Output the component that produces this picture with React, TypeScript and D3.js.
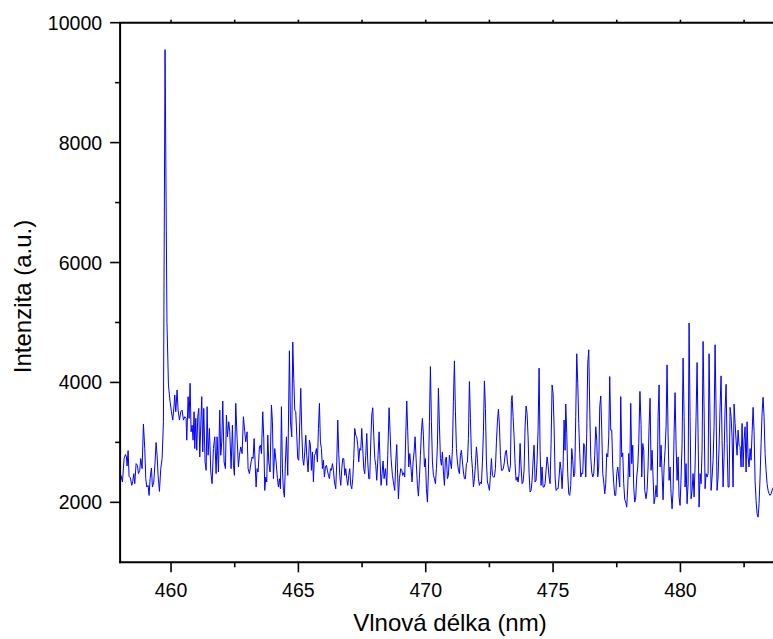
import React from "react";
import * as d3 from "d3";

const wlA = [
  458.000, 458.039, 458.092, 458.157, 458.209, 458.249, 458.275, 458.314, 458.353, 458.406,
  458.458, 458.497, 458.537, 458.576, 458.628, 458.681, 458.720, 458.772, 458.811, 458.864,
  458.916, 458.968, 459.008, 459.047, 459.099, 459.139, 459.178, 459.230, 459.269, 459.322,
  459.374, 459.413, 459.453, 459.492, 459.544, 459.597, 459.649, 459.701, 459.765, 459.840,
  459.898, 459.963, 460.015, 460.068, 460.120, 460.146, 460.186, 460.238, 460.277, 460.330,
  460.382, 460.434, 460.487, 460.539, 460.591, 460.617, 460.670, 460.709, 460.748, 460.788,
  460.827, 460.866, 460.905, 460.932, 460.971, 461.010, 461.049, 461.089, 461.128, 461.167,
  461.206, 461.246, 461.285, 461.337, 461.377, 461.416, 461.455, 461.507, 461.560, 461.612,
  461.664, 461.717, 461.769, 461.808, 461.861, 461.913, 461.952, 461.992, 462.031, 462.083,
  462.136, 462.175, 462.214, 462.266, 462.306, 462.358, 462.410, 462.450, 462.489, 462.541,
  462.594, 462.646, 462.685, 462.738, 462.790, 462.842, 462.895, 462.934, 462.986, 463.026,
  463.078,
];
const inA = [
  2478, 2439, 2339, 2730, 2797, 2757, 2607, 2864, 2434, 2406,
  2283, 2350, 2478, 2311, 2646, 2618, 2478, 2534, 2730, 2562,
  3305, 2897, 2395, 2255, 2283, 2115, 2395, 2573, 2255, 2339,
  2674, 2998, 2785, 2450, 2182, 2562, 2730, 3344, 9550, 5000,
  3958, 3679, 3511, 3372, 3623, 3790, 3511, 3874, 3539, 3372,
  3511, 3539, 3372, 3428, 3400, 3037, 3763, 3400, 3986, 3176,
  3288, 3037, 3511, 2897, 3400, 2869, 3428, 3567, 2757, 3288,
  3763, 2841, 3567, 2674, 2534, 3595, 2785, 3232, 2506, 2311,
  2897, 3093, 2478, 3093, 2506, 3539, 2785, 3009, 3690, 2674,
  2562, 3456, 3093, 3344, 3176, 2562, 3288, 2618, 2450, 3651,
  3065, 2590, 2785, 2925, 2813, 3428, 3176, 3009, 3176, 2562,
  2478,
];

const wlB = [
  463.143, 463.183, 463.222, 463.261, 463.300, 463.340, 463.379, 463.418, 463.470, 463.510,
  463.549, 463.601, 463.641, 463.680, 463.719, 463.758, 463.798, 463.837, 463.889, 463.942,
  463.981, 464.020, 464.072, 464.125, 464.177, 464.216, 464.256, 464.295, 464.334, 464.373,
  464.413, 464.452, 464.491, 464.531, 464.583, 464.648, 464.688, 464.740, 464.779, 464.818,
  464.858, 464.897, 464.936, 464.975, 465.015, 465.054, 465.093, 465.133, 465.172, 465.211,
  465.250, 465.290, 465.329, 465.381, 465.434, 465.473, 465.512, 465.551, 465.591, 465.630,
  465.669, 465.708, 465.748, 465.787, 465.826, 465.865, 465.905, 465.944, 465.983, 466.022,
  466.062, 466.101, 466.140, 466.180, 466.219, 466.258, 466.297, 466.337, 466.376, 466.415,
  466.467, 466.507, 466.546, 466.585, 466.624, 466.664, 466.703, 466.742, 466.782, 466.821,
  466.860, 466.899, 466.939, 466.978, 467.017, 467.056, 467.096, 467.135, 467.174, 467.213,
  467.253, 467.292, 467.331, 467.370, 467.410, 467.449, 467.488, 467.527, 467.567, 467.606,
  467.645, 467.685, 467.724, 467.763, 467.802, 467.842, 467.881, 467.920, 467.959, 467.999,
  468.038, 468.077, 468.129, 468.169, 468.208, 468.247, 468.286, 468.325, 468.365,
];
const inB = [
  2674, 2757, 2730, 3065, 2674, 2255, 2562, 2506, 2925, 2953,
  2813, 3511, 3065, 2199, 2422, 2339, 3120, 2674, 2506, 3623,
  3344, 2395, 2897, 2674, 2395, 2255, 2395, 2227, 3595, 2562,
  2199, 2087, 2674, 3093, 2450, 4528, 3344, 3093, 4673, 4070,
  3539, 3511, 3120, 2730, 2702, 3344, 3902, 3176, 2730, 2618,
  2841, 3120, 2785, 2506, 3037, 2953, 2534, 2841, 2339, 2785,
  2813, 2897, 2674, 3232, 3651, 3009, 2897, 2562, 2702, 2422,
  2590, 2618, 2534, 2450, 2395, 2562, 2534, 2646, 2534, 2339,
  2227, 2674, 3372, 2813, 2450, 2283, 2562, 2730, 2730, 2450,
  2562, 2395, 2283, 2450, 2562, 2283, 2227, 2395, 2730, 3232,
  3120, 3093, 2953, 2674, 2897, 2869, 3232, 2897, 2562, 2478,
  2785, 3148, 2674, 2395, 2395, 3009, 3456, 3578, 3120, 2730,
  2618, 2367, 2785, 3176, 2674, 2283, 2478, 2690, 2395,
];

const wlC = [
  468.417, 468.470, 468.509, 468.561, 468.601, 468.640, 468.692, 468.731, 468.784, 468.823,
  468.862, 468.889, 468.928, 468.967, 469.019, 469.059, 469.098, 469.137, 469.176, 469.216,
  469.255, 469.294, 469.334, 469.373, 469.412, 469.464, 469.504, 469.543, 469.582, 469.621,
  469.674, 469.713, 469.752, 469.792, 469.831, 469.870, 469.909, 469.949, 469.988, 470.027,
  470.066, 470.106, 470.145, 470.184, 470.224, 470.263, 470.302, 470.341, 470.381, 470.420,
  470.459, 470.498, 470.538, 470.577, 470.616, 470.655, 470.695, 470.734, 470.773, 470.812,
  470.852, 470.891, 470.930, 470.970, 471.009, 471.048, 471.087, 471.127, 471.166, 471.205,
  471.244, 471.284, 471.323, 471.362, 471.401, 471.441, 471.480, 471.519, 471.558, 471.598,
  471.637, 471.676, 471.715, 471.755, 471.794, 471.833, 471.873, 471.912, 471.951, 471.990,
  472.030, 472.069, 472.108, 472.147, 472.187, 472.226, 472.265, 472.304, 472.344, 472.383,
  472.422, 472.461, 472.501, 472.540, 472.579, 472.618, 472.658, 472.697, 472.736, 472.776,
  472.815, 472.854, 472.893, 472.933, 472.972, 473.011, 473.050, 473.090, 473.129, 473.168,
  473.207, 473.247, 473.286, 473.325, 473.364, 473.390,
];
const inC = [
  2562, 2283, 2785, 3578, 3176, 2730, 2450, 2339, 2199, 2674,
  2964, 2562, 2059, 2395, 2562, 2534, 2450, 2495, 2422, 3120,
  3690, 3176, 2590, 2813, 2618, 2339, 2674, 2841, 3093, 2730,
  2283, 2104, 2395, 2785, 3176, 3400, 3120, 2590, 2730, 2227,
  2004, 2506, 3344, 4265, 3344, 2674, 2450, 2395, 2311, 2562,
  2953, 3902, 3288, 2730, 2618, 2841, 2506, 2283, 2730, 2757,
  2395, 2450, 2785, 2674, 2562, 2897, 3679, 4360, 3511, 2897,
  2674, 2534, 2478, 2785, 2869, 2674, 2506, 2395, 2395, 2646,
  2674, 3065, 4014, 3400, 2785, 2562, 2255, 2395, 2618, 2925,
  2730, 2395, 2283, 2339, 2311, 2674, 3176, 4025, 3567, 2674,
  2339, 2283, 2199, 2450, 2730, 2450, 2422, 2422, 2562, 3009,
  3344, 3556, 3288, 2785, 2534, 2534, 2573, 2674, 2841, 2869,
  2674, 2562, 2506, 2618, 3700, 3780,
];

const wlD = [
  473.430, 473.469, 473.508, 473.548, 473.587, 473.626, 473.665, 473.705, 473.744, 473.783,
  473.822, 473.862, 473.901, 473.940, 473.979, 474.019, 474.058, 474.097, 474.137, 474.176,
  474.215, 474.254, 474.294, 474.333, 474.372, 474.411, 474.451, 474.490, 474.529, 474.568,
  474.608, 474.647, 474.686, 474.725, 474.765, 474.804, 474.843, 474.883, 474.922, 474.961,
  475.000, 475.040, 475.079, 475.118, 475.157, 475.197, 475.236, 475.275, 475.314, 475.354,
  475.393, 475.432, 475.471, 475.498, 475.537, 475.576, 475.615, 475.655, 475.694, 475.733,
  475.772, 475.812, 475.851, 475.890, 475.929, 475.969, 476.008, 476.047, 476.087, 476.126,
  476.165, 476.204, 476.244, 476.283, 476.322, 476.361, 476.401, 476.440, 476.479, 476.518,
  476.558, 476.597, 476.636, 476.675, 476.715, 476.754, 476.793, 476.832, 476.872, 476.911,
  476.950, 476.990, 477.029, 477.068, 477.107, 477.147, 477.186, 477.225, 477.264, 477.304,
  477.343, 477.382, 477.421, 477.461, 477.500, 477.539, 477.578, 477.618, 477.657, 477.696,
  477.735, 477.775, 477.814, 477.853, 477.892, 477.932, 477.971, 478.010, 478.049, 478.089,
  478.128, 478.167, 478.206, 478.246, 478.285, 478.324, 478.364, 478.410, 478.455,
];
const inD = [
  3428, 3093, 2646, 2367, 2423, 2339, 2479, 2981, 2590, 2311,
  2339, 2534, 3260, 3607, 3484, 3093, 2479, 2171, 2199, 2367,
  2702, 2953, 2339, 2367, 2702, 3204, 4238, 2869, 2283, 2590,
  2255, 2255, 2311, 2534, 2758, 2618, 2423, 2311, 2981, 3958,
  3819, 3260, 2423, 2199, 2227, 2227, 2423, 2674, 2534, 2227,
  2590, 3372, 2869, 3640, 3149, 2479, 2143, 2116, 2283, 2897,
  2702, 2423, 2479, 3428, 4478, 3986, 3316, 2814, 2423, 2490,
  2479, 2981, 2925, 2423, 3149, 4321, 4545, 3539, 2758, 2506,
  2423, 2479, 2786, 3260, 3037, 2423, 2590, 3595, 3774, 3204,
  2479, 2339, 2143, 2311, 2814, 2758, 3093, 4098, 3204, 3204,
  2590, 2311, 2116, 2116, 2479, 2590, 2423, 2255, 3763, 2758,
  2825, 2311, 2043, 2004, 1920, 2255, 2814, 2423, 3651, 2646,
  2953, 2255, 2004, 2088, 2423, 2590, 2981, 3850, 3300,
];

const wlE = [
  478.481, 478.521, 478.560, 478.599, 478.652, 478.691, 478.730, 478.769, 478.809, 478.848,
  478.887, 478.926, 478.966, 479.005, 479.044, 479.083, 479.123, 479.162, 479.201, 479.241,
  479.280, 479.319, 479.358, 479.398, 479.437, 479.476, 479.515, 479.555, 479.594, 479.633,
  479.672, 479.712, 479.751, 479.790, 479.829, 479.869, 479.908, 479.947, 479.986, 480.026,
  480.065, 480.104, 480.144, 480.183, 480.222, 480.261, 480.301, 480.340, 480.379, 480.418,
  480.458, 480.497, 480.536, 480.575, 480.615, 480.654, 480.693, 480.732, 480.772, 480.811,
  480.850, 480.889, 480.929, 480.968, 481.007, 481.047, 481.086, 481.125, 481.164, 481.204,
  481.243, 481.282, 481.321, 481.361, 481.400, 481.439, 481.478, 481.518, 481.557, 481.596,
  481.635, 481.675, 481.714, 481.753, 481.793, 481.832, 481.871, 481.910, 481.950, 481.989,
  482.028, 482.067, 482.107, 482.146, 482.185, 482.224, 482.264, 482.303, 482.342, 482.381,
  482.421, 482.460, 482.499, 482.538, 482.578, 482.617, 482.656, 482.695, 482.735, 482.774,
  482.813, 482.853, 482.892, 482.931, 482.970, 483.010, 483.049, 483.088, 483.127, 483.167,
  483.206, 483.245, 483.284, 483.324, 483.363, 483.402, 483.441, 483.481, 483.520, 483.559,
  483.598, 483.638,
];
const inE = [
  2423, 2981, 2869, 2199, 2060, 2199, 2590, 3260, 3735, 2534,
  2869, 2423, 1976, 2088, 2283, 2088, 3428, 3958, 2590, 2953,
  2479, 2043, 2590, 2869, 3260, 4293, 3149, 2367, 2590, 2143,
  1892, 2199, 3149, 3830, 2953, 2367, 2758, 2088, 1948, 2423,
  2981, 4405, 3428, 2255, 2646, 1976, 2311, 4991, 3428, 2060,
  2199, 2479, 2088, 2590, 3428, 4332, 3149, 1920, 2479, 2311,
  2869, 4684, 3540, 2227, 2479, 2423, 2479, 4478, 3372, 2199,
  2423, 2702, 3260, 4628, 3540, 2199, 2423, 2925, 3595, 4109,
  3037, 2255, 2758, 3540, 3969, 2981, 2255, 2255, 3584, 3428,
  3093, 2255, 3640, 3316, 3037, 2786, 3204, 2953, 2925, 2590,
  3316, 2590, 3037, 3260, 2506, 3344, 2758, 2590, 2897, 2702,
  3149, 3584, 3177, 2367, 2032, 1808, 1753, 1976, 2423, 2981,
  3484, 3752, 3428, 2814, 2534, 2311, 2199, 2143, 2116, 2143,
  2199, 2250,
];

const wavelength = [...wlA, ...wlB, ...wlC, ...wlD, ...wlE];
const intensity = [...inA, ...inB, ...inC, ...inD, ...inE];

const xMajorTicks = [460, 465, 470, 475, 480];
const xMinorTicks = [462.5, 467.5, 472.5, 477.5, 482.5];
const yMajorTicks = [2000, 4000, 6000, 8000, 10000];
const yMinorTicks = [3000, 5000, 7000, 9000];

const xTitle = "Vlnová délka (nm)";
const yTitle = "Intenzita (a.u.)";

export default function App() {
  const W = 773;
  const H = 639;
  const left = 120.1;
  const top = 22.7;
  const bottom = 562.3;
  const x = d3.scaleLinear().domain([458, 484]).range([left, 782.3]);
  const y = d3.scaleLinear().domain([1000, 10000]).range([bottom, top]);
  const n = Math.min(wavelength.length, intensity.length);
  const pts: [number, number][] = [];
  for (let i = 0; i < n; i++) pts.push([wavelength[i], intensity[i]]);
  const line = d3
    .line<[number, number]>()
    .x((d) => x(d[0]))
    .y((d) => y(d[1]));
  const font = "'Liberation Sans', Arial, Helvetica, sans-serif";
  const tickFs = 19.5;
  const titleFs = 24;

  return (
    <svg
      width={W}
      height={H}
      style={{ position: "absolute", left: 0, top: 0, background: "#fff" }}
      fontFamily={font}
    >
      <defs>
        <clipPath id="plotclip">
          <rect x={left} y={top} width={W - left} height={bottom - top} />
        </clipPath>
      </defs>
      <rect x={0} y={0} width={W} height={H} fill="#fff" />
      <path
        d={line(pts) || ""}
        fill="none"
        stroke="#0000ff"
        strokeWidth={1}
        strokeLinejoin="round"
        clipPath="url(#plotclip)"
      />
      <line x1={left} y1={top} x2={left} y2={bottom + 1} stroke="#000" strokeWidth={2} />
      <line x1={left - 1} y1={bottom} x2={W} y2={bottom} stroke="#000" strokeWidth={2} />
      <line x1={left - 1} y1={top} x2={W} y2={top} stroke="#000" strokeWidth={2} />
      {xMajorTicks.map((t) => (
        <g key={"xM" + t}>
          <line x1={x(t)} x2={x(t)} y1={bottom} y2={bottom + 10} stroke="#000" strokeWidth={1.6} />
          <line x1={x(t)} x2={x(t)} y1={top} y2={top - 3} stroke="#000" strokeWidth={1.6} />
          <text x={x(t)} y={bottom + 35} textAnchor="middle" fontSize={tickFs} fill="#000">
            {t}
          </text>
        </g>
      ))}
      {xMinorTicks.map((t) => (
        <g key={"xm" + t}>
          <line x1={x(t)} x2={x(t)} y1={bottom} y2={bottom + 5} stroke="#000" strokeWidth={1.6} />
          <line x1={x(t)} x2={x(t)} y1={top} y2={top - 3} stroke="#000" strokeWidth={1.6} />
        </g>
      ))}
      {yMajorTicks.map((t) => (
        <g key={"yM" + t}>
          <line x1={left - 10} x2={left} y1={y(t)} y2={y(t)} stroke="#000" strokeWidth={1.6} />
          <text x={left - 18} y={y(t) + 7} textAnchor="end" fontSize={tickFs} fill="#000">
            {t}
          </text>
        </g>
      ))}
      {yMinorTicks.map((t) => (
        <line key={"ym" + t} x1={left - 5} x2={left} y1={y(t)} y2={y(t)} stroke="#000" strokeWidth={1.6} />
      ))}
      <text x={450} y={631} textAnchor="middle" fontSize={titleFs} fill="#000">
        {xTitle}
      </text>
      <text
        transform={`translate(31, ${(top + bottom) / 2 + 4}) rotate(-90)`}
        textAnchor="middle"
        fontSize={titleFs}
        fill="#000"
      >
        {yTitle}
      </text>
    </svg>
  );
}
